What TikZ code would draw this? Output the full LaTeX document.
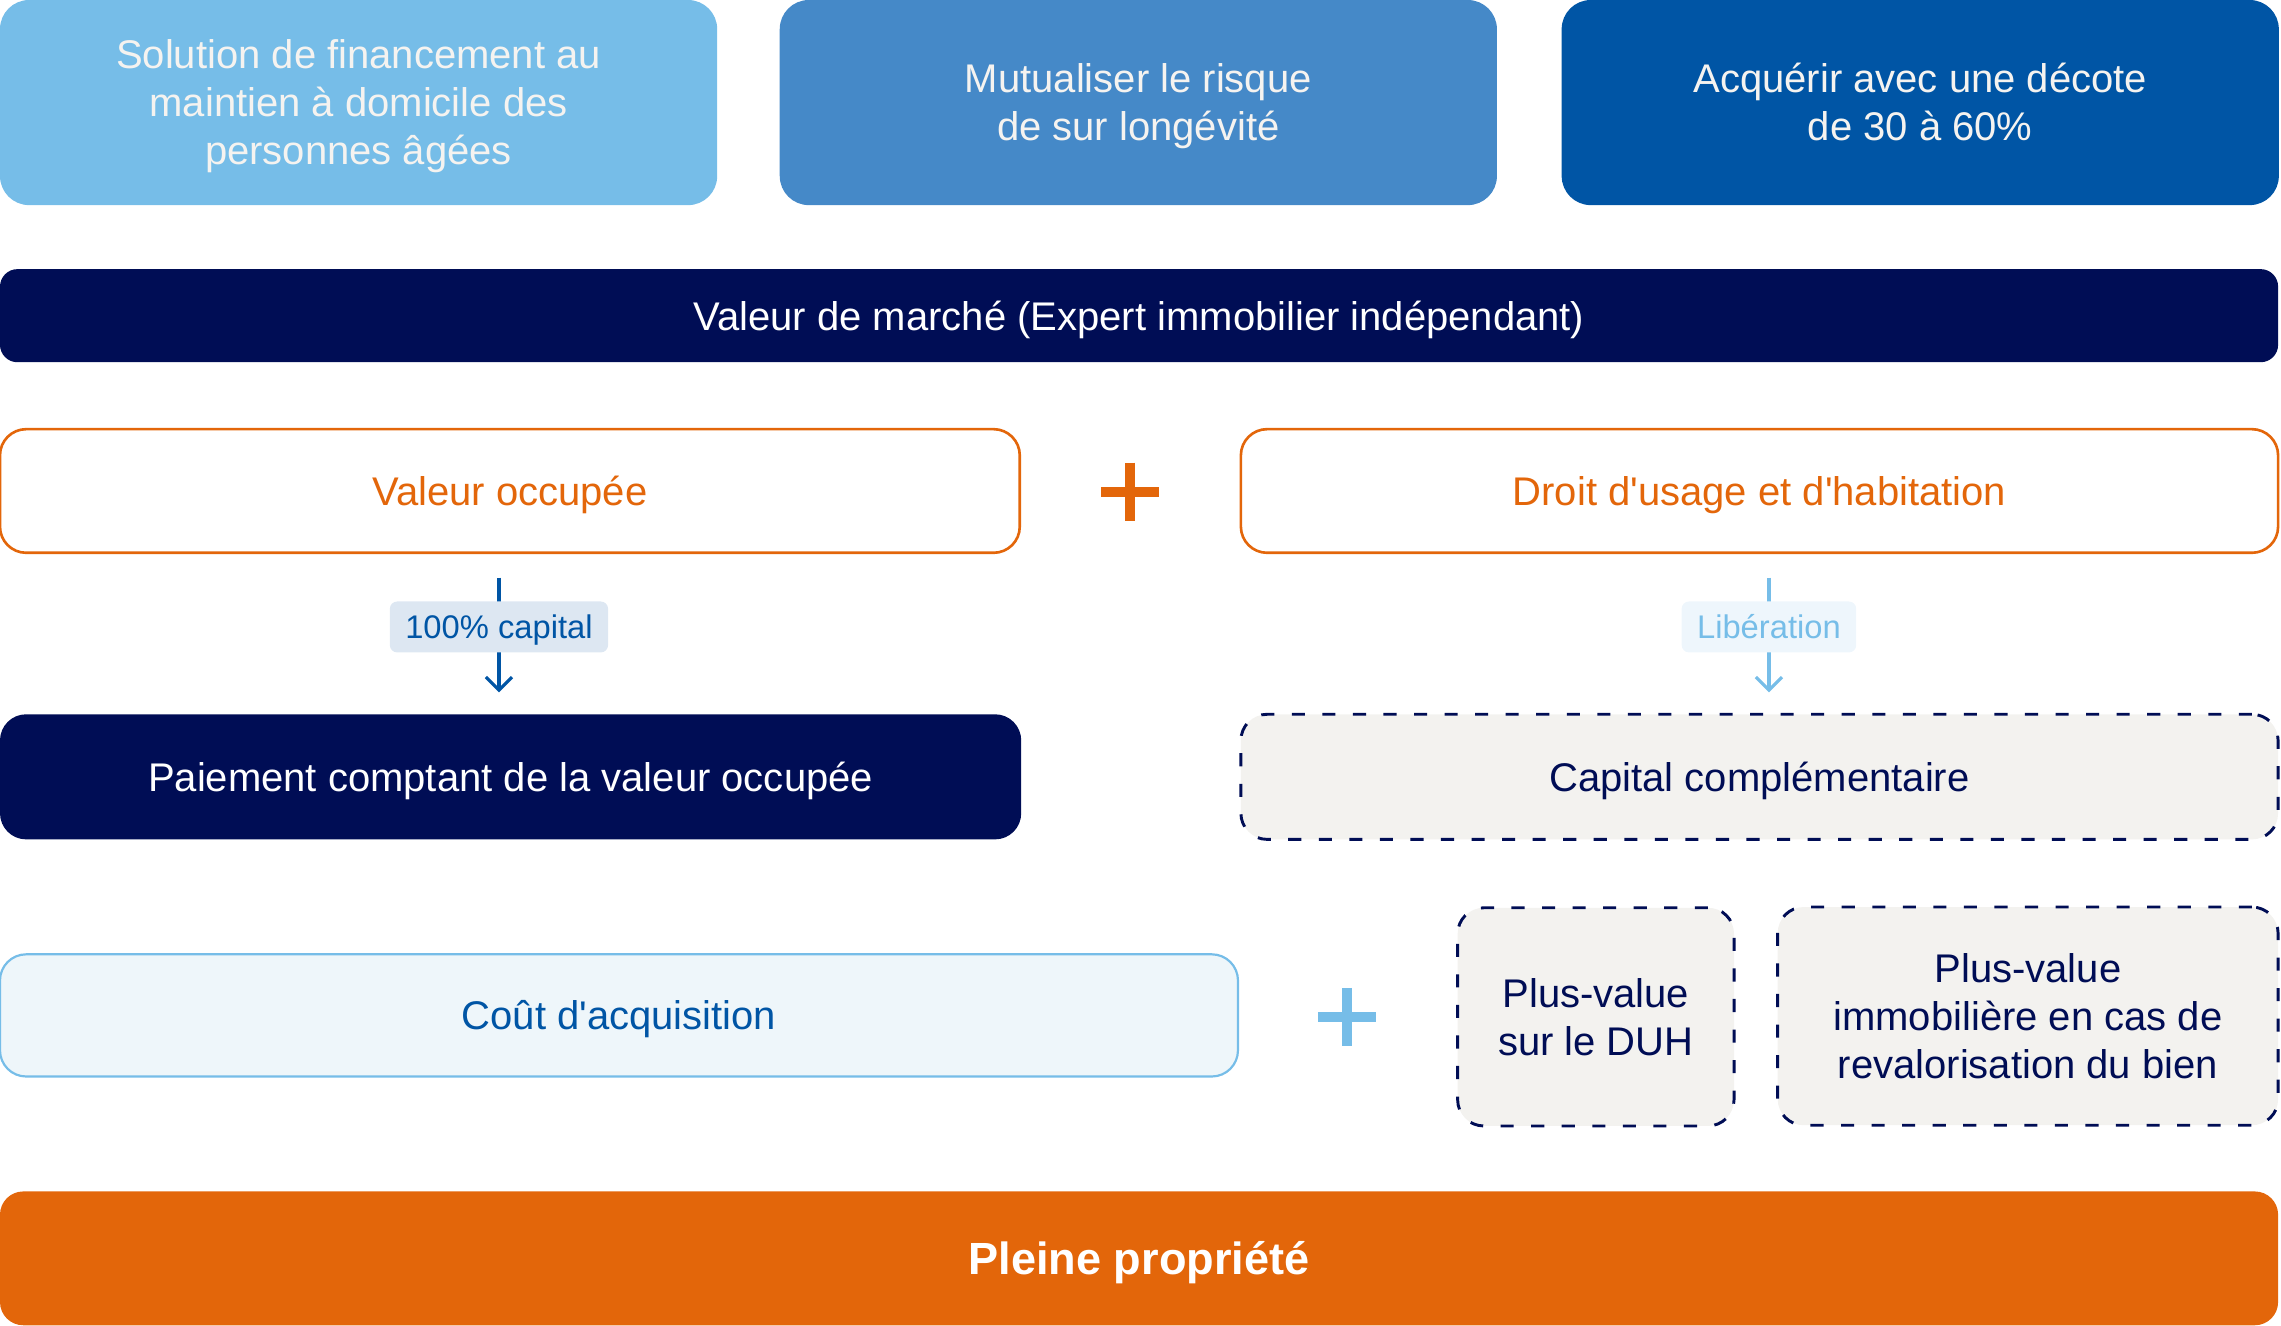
\documentclass[tikz,border=0pt]{standalone}
\usepackage{fontspec}
\setmainfont{Liberation Sans}[Ligatures=TeXOff]
\usetikzlibrary{arrows.meta}
\definecolor{lightblue}{HTML}{76BDE8}
\definecolor{midblue}{HTML}{4589C8}
\definecolor{deepblue}{HTML}{0055A5}
\definecolor{navy}{HTML}{000D55}
\definecolor{orangec}{HTML}{E3660A}
\definecolor{beige}{HTML}{F3F2EF}
\definecolor{paleblue}{HTML}{EEF6FA}
\definecolor{labfillA}{HTML}{DDE7F2}
\definecolor{labfillB}{HTML}{EEF6FC}
\definecolor{offwhite}{HTML}{F5F3F0}
\newcommand{\mlines}[2]{\begin{tabular}{@{}c@{}}\rule{0pt}{#1}#2\end{tabular}}
\tikzset{
  basebox/.style={outer sep=0pt, inner sep=0pt, align=center, font=\fontsize{27.5}{33}\selectfont},
  oneline/.style={text height=19.7pt, text depth=0pt},
  topbox/.style={basebox, rounded corners=20pt, text=offwhite, minimum height=141pt, minimum width=493pt},
  navybar/.style={basebox, oneline, rounded corners=12pt, fill=navy, text=white},
  orangebox/.style={basebox, oneline, rounded corners=18pt, draw=orangec, line width=1.8pt, fill=white, text=orangec, minimum width=701pt, minimum height=85pt},
  dashbox/.style={basebox, rounded corners=18pt, draw=navy, line width=2pt, dash pattern=on 9pt off 12pt, fill=beige, text=navy},
  labA/.style={fill=labfillA, text=deepblue, rounded corners=5pt, font=\fontsize{22.5}{26}\selectfont, text height=16.1pt, text depth=0pt, minimum width=150pt, minimum height=35pt, inner sep=0pt},
  labB/.style={fill=labfillB, text=lightblue, rounded corners=5pt, font=\fontsize{22.5}{26}\selectfont, text height=16.1pt, text depth=0pt, minimum width=120pt, minimum height=35pt, inner sep=0pt},
  arrA/.style={draw=deepblue, line width=2.2pt, -{Straight Barb[length=9pt,width=18pt,line width=2.2pt]}},
  arrB/.style={draw=lightblue, line width=2.2pt, -{Straight Barb[length=9pt,width=18pt,line width=2.2pt]}},
}
\begin{document}
\begin{tikzpicture}[x=1pt,y=-1pt]
\useasboundingbox (0,0) rectangle (1568,911);

% top row
\node[topbox, fill=lightblue] (t1) at (246.5,70.5) {\mlines{29.1pt}{Solution de financement au\\maintien à domicile des\\personnes âgées}};
\node[topbox, fill=midblue] (t2) at (782.5,70.5) {\mlines{29.1pt}{Mutualiser le risque\\de sur longévité}};
\node[topbox, fill=deepblue] (t3) at (1320,70.5) {\mlines{29.1pt}{Acquérir avec une décote\\de 30 à 60\%}};

% market value bar
\node[navybar, minimum width=1566pt, minimum height=64pt] (mv) at (783,217) {Valeur de marché (Expert immobilier indépendant)};

% valeur occupee / DUH
\node[orangebox] (vo) at (350.5,337.5) {Valeur occupée};
\node[orangebox, minimum width=713pt] (duh) at (1209.5,337.5) {Droit d'usage et d'habitation};
\draw[orangec, line width=7pt] (757,338) -- (797,338) (777,318) -- (777,358);

% payment / capital
\node[navybar, rounded corners=18pt, minimum width=702pt, minimum height=86pt] (pay) at (351,534) {Paiement comptant de la valeur occupée};
\node[dashbox, oneline, minimum width=713pt, minimum height=86pt] (cc) at (1209.5,534) {Capital complémentaire};

\draw[arrA] ([xshift=-7.5pt,yshift=-17pt]vo.south) -- node[labA, pos=0.43] (l1) {100\% capital} ([xshift=-8pt,yshift=15pt]pay.north);
\draw[arrB] ([xshift=6.5pt,yshift=-17pt]duh.south) -- node[labB, pos=0.43] (l2) {Libération} ([xshift=6.5pt,yshift=15pt]cc.north);

% cost row
\node[basebox, oneline, rounded corners=18pt, draw=lightblue, line width=1.5pt, fill=paleblue, text=deepblue, minimum width=851pt, minimum height=84pt] (cout) at (425.5,698) {Coût d'acquisition};
\draw[lightblue, line width=7pt] (906,699) -- (946,699) (926,679) -- (926,719);
\node[dashbox, minimum width=190pt, minimum height=150pt] (pv1) at (1097,699) {Plus-value\\sur le DUH};
\node[dashbox, minimum width=344pt, minimum height=150pt] (pv2) at (1394,698.5) {Plus-value\\immobilière en cas de\\revalorisation du bien};

% bottom bar
\node[basebox, rounded corners=16pt, fill=orangec, text=white, minimum width=1566pt, minimum height=92pt, text height=22.2pt, text depth=0pt, font=\fontsize{31}{36}\selectfont\bfseries] (pp) at (783,865) {Pleine propriété};
\end{tikzpicture}
\end{document}
